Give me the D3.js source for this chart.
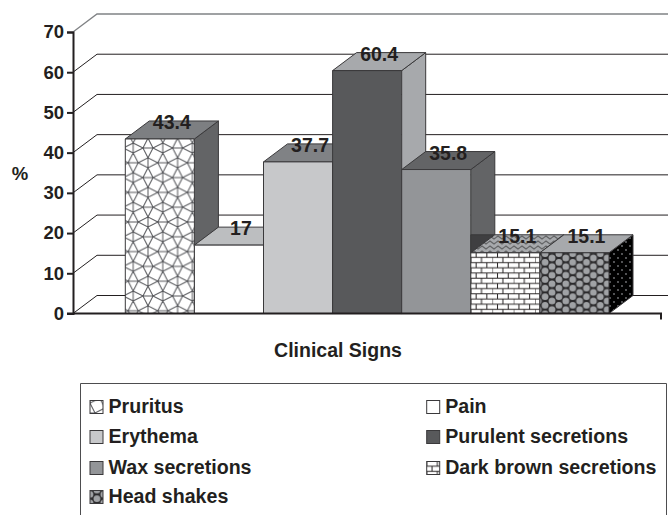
<!DOCTYPE html>
<html>
<head>
<meta charset="utf-8">
<script src="https://cdn.jsdelivr.net/npm/d3@7"></script>
<style>
	html, body { margin: 0; padding: 0; background: #fff; }
	svg { display: block; }
	text { font-family: "Liberation Sans", Arial, sans-serif; font-weight: bold; fill: #231f20; }
</style>
</head>
<body>
<script>
'use strict';

// Values.
const categories = ["Pruritus", "Pain", "Erythema", "Purulent secretions", "Wax secretions", "Dark brown secretions", "Head shakes"];
const values = [43.4, 17, 37.7, 60.4, 35.8, 15.1, 15.1];
const valueLabels = ["43.4", "17", "37.7", "60.4", "35.8", "15.1", "15.1"];
const yTicks = [0, 10, 20, 30, 40, 50, 60, 70];

// Face fills, in category order.
const frontFills = ["url(#cells)", "#ffffff", "#c7c8ca", "#58595b", "#939598", "url(#bricks)", "url(#circles)"];
const topFills = ["#7d7f82", "#bcbec0", "#808285", "#a7a9ac", "#636466", "url(#waves)", "#a7a9ac"];
const sideFills = ["#636466", "#ffffff", "#808285", "#a7a9ac", "#636466", "#808285", "url(#dots)"];

const width = 668, height = 515;
const ink = "#231f20";

// Offset of the back wall from the front of the chart.
const depthX = 24, depthY = 18;

const x = d3.scaleBand().domain(categories).range([125.3, 609]);
const y = d3.scaleLinear().domain([0, 70]).range([313.5, 32]);

const svg = d3.select("body").append("svg")
	.attr("width", width)
	.attr("height", height);

// Fill textures for the hatched bars.
function AddPattern(id, size, background, draw)
{
	let pattern = svg.select("defs").append("pattern")
		.attr("id", id)
		.attr("patternUnits", "userSpaceOnUse")
		.attr("width", size[0])
		.attr("height", size[1]);
	pattern.append("rect")
		.attr("width", size[0])
		.attr("height", size[1])
		.attr("fill", background);
	draw(pattern);
}

svg.append("defs");

// Triangles and squares: short edges alternate horizontal and vertical.
AddPattern("cells", [29.6, 29.6], "#ffffff", function(p) {
	const a = 14.8, s = 5;
	let d = "";
	[[0, 0], [a, a], [2 * a, 0], [0, 2 * a], [2 * a, 2 * a]].forEach(function(c) {
		d += "M" + (c[0] - s) + "," + c[1] + "H" + (c[0] + s);
		[-1, 1].forEach(function(side) {
			d += "M" + (c[0] + s) + "," + c[1] + "L" + (c[0] + a) + "," + (c[1] + side * s);
			d += "M" + (c[0] - s) + "," + c[1] + "L" + (c[0] - a) + "," + (c[1] + side * s);
			d += "M" + (c[0] + s) + "," + c[1] + "L" + c[0] + "," + (c[1] + side * (a - s));
			d += "M" + (c[0] - s) + "," + c[1] + "L" + c[0] + "," + (c[1] + side * (a - s));
		});
	});
	[[a, 0], [0, a], [2 * a, a], [a, 2 * a]].forEach(function(c) {
		d += "M" + c[0] + "," + (c[1] - s) + "V" + (c[1] + s);
	});
	p.append("path").attr("d", d).attr("fill", "none").attr("stroke", "#55565a").attr("stroke-width", 1);
});

AddPattern("bricks", [21.4, 10.4], "#ffffff", function(p) {
	p.append("path")
		.attr("d", "M0,2.6H21.4M0,7.8H21.4M5.35,2.6V7.8M16.05,2.6V7.8M10.7,7.8V10.4M10.7,0V2.6M0,7.8V10.4M0,0V2.6")
		.attr("fill", "none").attr("stroke", ink).attr("stroke-width", 1);
});

// Honeycomb of circles in staggered columns.
AddPattern("circles", [13.8, 8.6], "#2b2a2c", function(p) {
	[[0, 0], [13.8, 0], [0, 8.6], [13.8, 8.6], [6.9, 4.3]].forEach(function(c) {
		p.append("circle").attr("cx", c[0]).attr("cy", c[1]).attr("r", 3.4).attr("fill", "#a0a2a5");
	});
});

AddPattern("waves", [8, 5], "#a7a9ac", function(p) {
	p.append("path")
		.attr("d", "M0,2.5L2,1L4,2.5L6,4L8,2.5")
		.attr("fill", "none").attr("stroke", "#636466").attr("stroke-width", 1.3);
});

AddPattern("dots", [8, 8], "#000000", function(p) {
	[[2, 2], [6, 6]].forEach(function(c) {
		p.append("circle").attr("cx", c[0]).attr("cy", c[1]).attr("r", 0.9).attr("fill", "#77787b");
	});
});

// Back wall: gridlines run up the side wall and then along the back.
const grid = svg.append("g").attr("fill", "none");
grid.selectAll("path")
	.data(yTicks)
	.join("path")
	.attr("d", function(d) {
		let left = 73;
		return "M" + left + "," + y(d) + "L" + (left + depthX) + "," + (y(d) - depthY) + "H" + width;
	})
	.attr("stroke", function(d) { return d == 70 ? "#808285" : ink; })
	.attr("stroke-width", function(d) { return d == 70 ? 1.3 : 1; });

// Bars go left to right, so a later bar covers the side of the one before it.
const bars = svg.append("g")
	.attr("stroke", "#3a393b")
	.attr("stroke-width", 1)
	.attr("stroke-linejoin", "round");

categories.forEach(function(name, i) {
	let x0 = x(name), x1 = x0 + x.bandwidth();
	let yTop = y(values[i]), yBase = y(0);
	let bar = bars.append("g");
	bar.append("path")
		.attr("d", d3.line()([[x1, yTop], [x1 + depthX, yTop - depthY], [x1 + depthX, yBase - depthY], [x1, yBase]]))
		.attr("fill", sideFills[i]);

	// The wax side goes darker in the corner just behind the brick bar.
	if (i == 5)
	{
		bar.append("path")
			.attr("d", d3.line()([[x0, yTop], [x0, yTop - depthY], [x0 + depthX, yTop - depthY]]) + "Z")
			.attr("fill", "#3f3f41");
	}

	bar.append("path")
		.attr("d", d3.line()([[x0, yTop], [x0 + depthX, yTop - depthY], [x1 + depthX, yTop - depthY], [x1, yTop]]) + "Z")
		.attr("fill", topFills[i]);
	bar.append("rect")
		.attr("x", x0)
		.attr("y", yTop)
		.attr("width", x.bandwidth())
		.attr("height", yBase - yTop)
		.attr("fill", frontFills[i]);
});

// Axes.
const yAxis = svg.append("g")
	.attr("transform", "translate(73,0)")
	.call(d3.axisLeft(y).tickValues(yTicks).tickSize(6).tickPadding(3));
yAxis.selectAll("line").attr("stroke", ink).attr("stroke-width", 2);
yAxis.select(".domain").attr("stroke", ink).attr("stroke-width", 2);
yAxis.selectAll("text").attr("font-size", 18.5).attr("fill", ink).attr("font-family", null);

svg.append("path")
	.attr("d", "M67," + y(0) + "H661v6")
	.attr("fill", "none")
	.attr("stroke", ink)
	.attr("stroke-width", 2);

// Value labels sit over the bar tops.
svg.append("g")
	.selectAll("text")
	.data(categories)
	.join("text")
	.attr("x", function(d) { return x(d) + x.bandwidth() / 2 + depthX / 2; })
	.attr("y", function(d, i) { return y(values[i]) - 10; })
	.attr("text-anchor", "middle")
	.attr("font-size", 19.5)
	.text(function(d, i) { return valueLabels[i]; });

svg.append("text").attr("x", 20).attr("y", 180).attr("text-anchor", "middle").attr("font-size", 18.5).text("%");
svg.append("text").attr("x", 338).attr("y", 357).attr("text-anchor", "middle").attr("font-size", 19.5).text("Clinical Signs");

// Legend: the frame has no bottom edge in the picture.
svg.append("path")
	.attr("d", "M80.5,515V383.5H666.5V515")
	.attr("fill", "none")
	.attr("stroke", "#4d4d4f")
	.attr("stroke-width", 1);

const legendRows = [413, 443, 474, 503];
const legendColumns = [90, 426.7];
const legend = svg.append("g")
	.selectAll("g")
	.data(categories)
	.join("g")
	.attr("transform", function(d, i) {
		return "translate(" + legendColumns[i % 2] + "," + legendRows[Math.floor(i / 2)] + ")";
	});
legend.append("rect")
	.attr("y", -12.5)
	.attr("width", 13)
	.attr("height", 13)
	.attr("fill", function(d, i) { return frontFills[i]; })
	.attr("stroke", "#3a393b")
	.attr("stroke-width", 1);
legend.append("text")
	.attr("x", 18.5)
	.attr("font-size", 19.6)
	.text(function(d) { return d; });
</script>
</body>
</html>
